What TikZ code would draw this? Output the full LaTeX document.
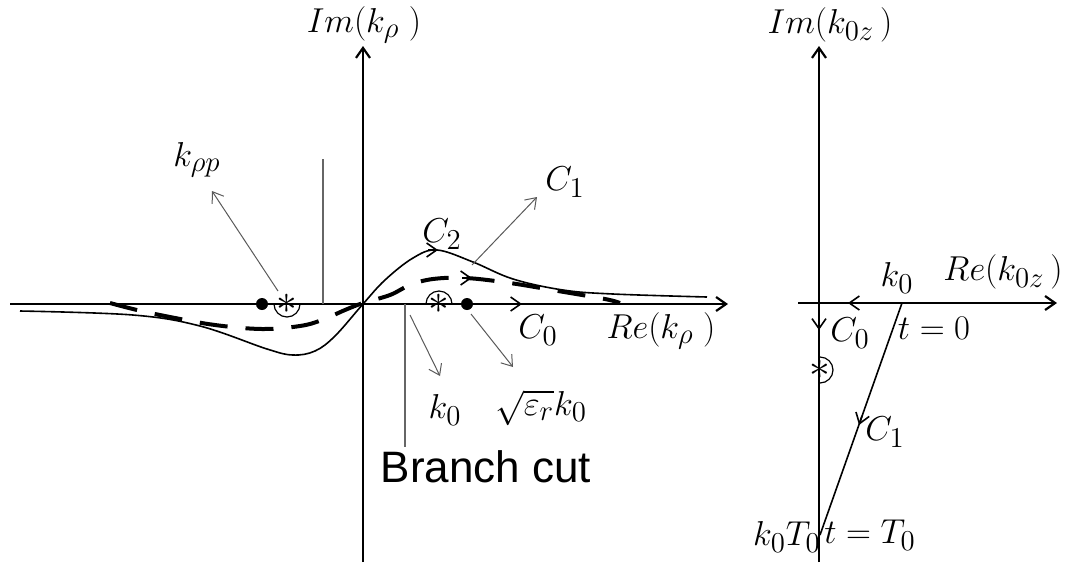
\documentclass[tikz,border=0pt]{standalone}
\usepackage{amsmath,amssymb}
\usepackage{fontspec}
\setsansfont{Liberation Sans}
\usepackage{tikz}
\usetikzlibrary{arrows.meta}

\begin{document}
\begin{tikzpicture}[x=0.5pt,y=-0.5pt,
  barb/.style={-{Straight Barb[length=5pt,width=7pt]}},
  axis/.style={line width=1.1pt,barb},
  contour/.style={line width=0.8pt},
  dcontour/.style={line width=2pt,dash pattern=on 14pt off 9pt},
  pointer/.style={gray!70!black,line width=0.5pt,barb},
  cutline/.style={gray!80!black,line width=0.7pt},
  lbl/.style={font=\fontsize{19}{23}\selectfont,inner sep=1pt},
  pole/.style={font=\fontsize{20}{20}\selectfont,inner sep=0pt}]
  \useasboundingbox (0,0) rectangle (1078,564);
  % left plane: k_rho
  \coordinate (O) at (363,304); \coordinate (xl) at (10,304); \coordinate (xr) at (728,304);
  \coordinate (yb) at (363,562); \coordinate (yt) at (363,46);
  \draw[axis] (xl) -- (xr); \draw[axis] (yb) -- (yt);
  \node[lbl] (imL) at (364,25) {$Im(k_{\rho}\;)$}; \node[lbl] (reL) at (661,331) {$Re(k_{\rho}\;)$};
  \draw[cutline] (323,159) -- (323,304); \draw[cutline] (405,304) -- (405,447);
  \draw[contour] plot[smooth,tension=0.6] coordinates {(20,311) (133,315) (200,326) (267,349) (293,355) (315,351) (335,336) (363,304) (385,280) (413,258) (437,250) (473,262) (513,279) (563,290) (613,294) (707,297)};
  \draw[dcontour] plot[smooth,tension=0.6] coordinates {(110,303) (137,310) (170,317) (215,325) (262,329) (300,326) (322,320) (345,310) (363,303) (390,295) (410,285) (433,279) (466,278) (510,283) (558,291) (605,299) (620,303)};
  \draw[barb,line width=0.8pt] (428,250) -- (438,250); \draw[barb,line width=0.8pt] (462,278) -- (472,278); \draw[barb,line width=0.8pt] (512,304) -- (522,304);
  % poles
  \coordinate (pl) at (287,304); \coordinate (pr) at (439,304);
  \fill (262,304) circle[radius=3pt]; \fill (467,304) circle[radius=3pt];
  \node[pole] (al) at (pl) {$\ast$}; \node[pole] (ar) at (pr) {$\ast$};
  \draw[line width=0.6pt] (274,304) arc[start angle=180,end angle=360,radius=6.5pt];
  \draw[line width=0.6pt] (426,304) arc[start angle=180,end angle=0,radius=6.5pt];
  \node[lbl] (kp) at (197,160) {$k_{\rho p}$}; \node[lbl] (c1) at (565,182) {$C_1$};
  \node[lbl] (c2) at (442,234) {$C_2$}; \node[lbl] (c0) at (538,330) {$C_0$};
  \node[lbl] (k0) at (445,410) {$k_0$}; \node[lbl] (erk) at (541,408) {$\sqrt{\varepsilon_r}k_0$};
  \node[font=\sffamily\fontsize{22}{26}\selectfont] (bc) at (486,467) {Branch cut};
  \coordinate (kpS) at (278,291); \coordinate (kpE) at (212,191);
  \coordinate (c1S) at (472,265); \coordinate (c1E) at (537,197);
  \coordinate (k0S) at (410,315); \coordinate (k0E) at (440,376);
  \coordinate (erS) at (471,314); \coordinate (erE) at (513,367);
  \draw[pointer] (kpS) -- (kpE); \draw[pointer] (c1S) -- (c1E);
  \draw[pointer] (k0S) -- (k0E); \draw[pointer] (erS) -- (erE);
  % right plane: k_0z
  \coordinate (O2) at (819,303); \coordinate (ub) at (819,562); \coordinate (ut) at (819,46);
  \coordinate (vl) at (798,303); \coordinate (vr) at (1057,303);
  \draw[axis] (ub) -- (ut); \draw[axis] (vl) -- (vr);
  \node[lbl] (imR) at (830,25) {$Im(k_{0z}\,)$}; \node[lbl] (reR) at (1003,272) {$Re(k_{0z}\,)$};
  \coordinate (tA) at (902,303); \coordinate (tB) at (820,535);
  \draw[contour] (tA) -- (tB);
  \draw[barb,line width=0.8pt] (862,416) -- (859,425); \draw[barb,line width=0.8pt] (858,303) -- (848,303); \draw[barb,line width=0.8pt] (819,320) -- (819,330);
  \coordinate (pz) at (820,370);
  \node[pole] (az) at (pz) {$\ast$};
  \draw[line width=0.6pt] (820,357) arc[start angle=90,end angle=-90,radius=6.5pt];
  \node[lbl] (k0R) at (897,278) {$k_0$}; \node[lbl] (c0R) at (850,333) {$C_0$};
  \node[lbl] (t0) at (934,328) {$t=0$}; \node[lbl] (c1R) at (885,432) {$C_1$};
  \node[lbl] (tT) at (870,535) {$t=T_0$}; \node[lbl] (kT) at (787,537) {$k_0T_0$};
\end{tikzpicture}
\end{document}
